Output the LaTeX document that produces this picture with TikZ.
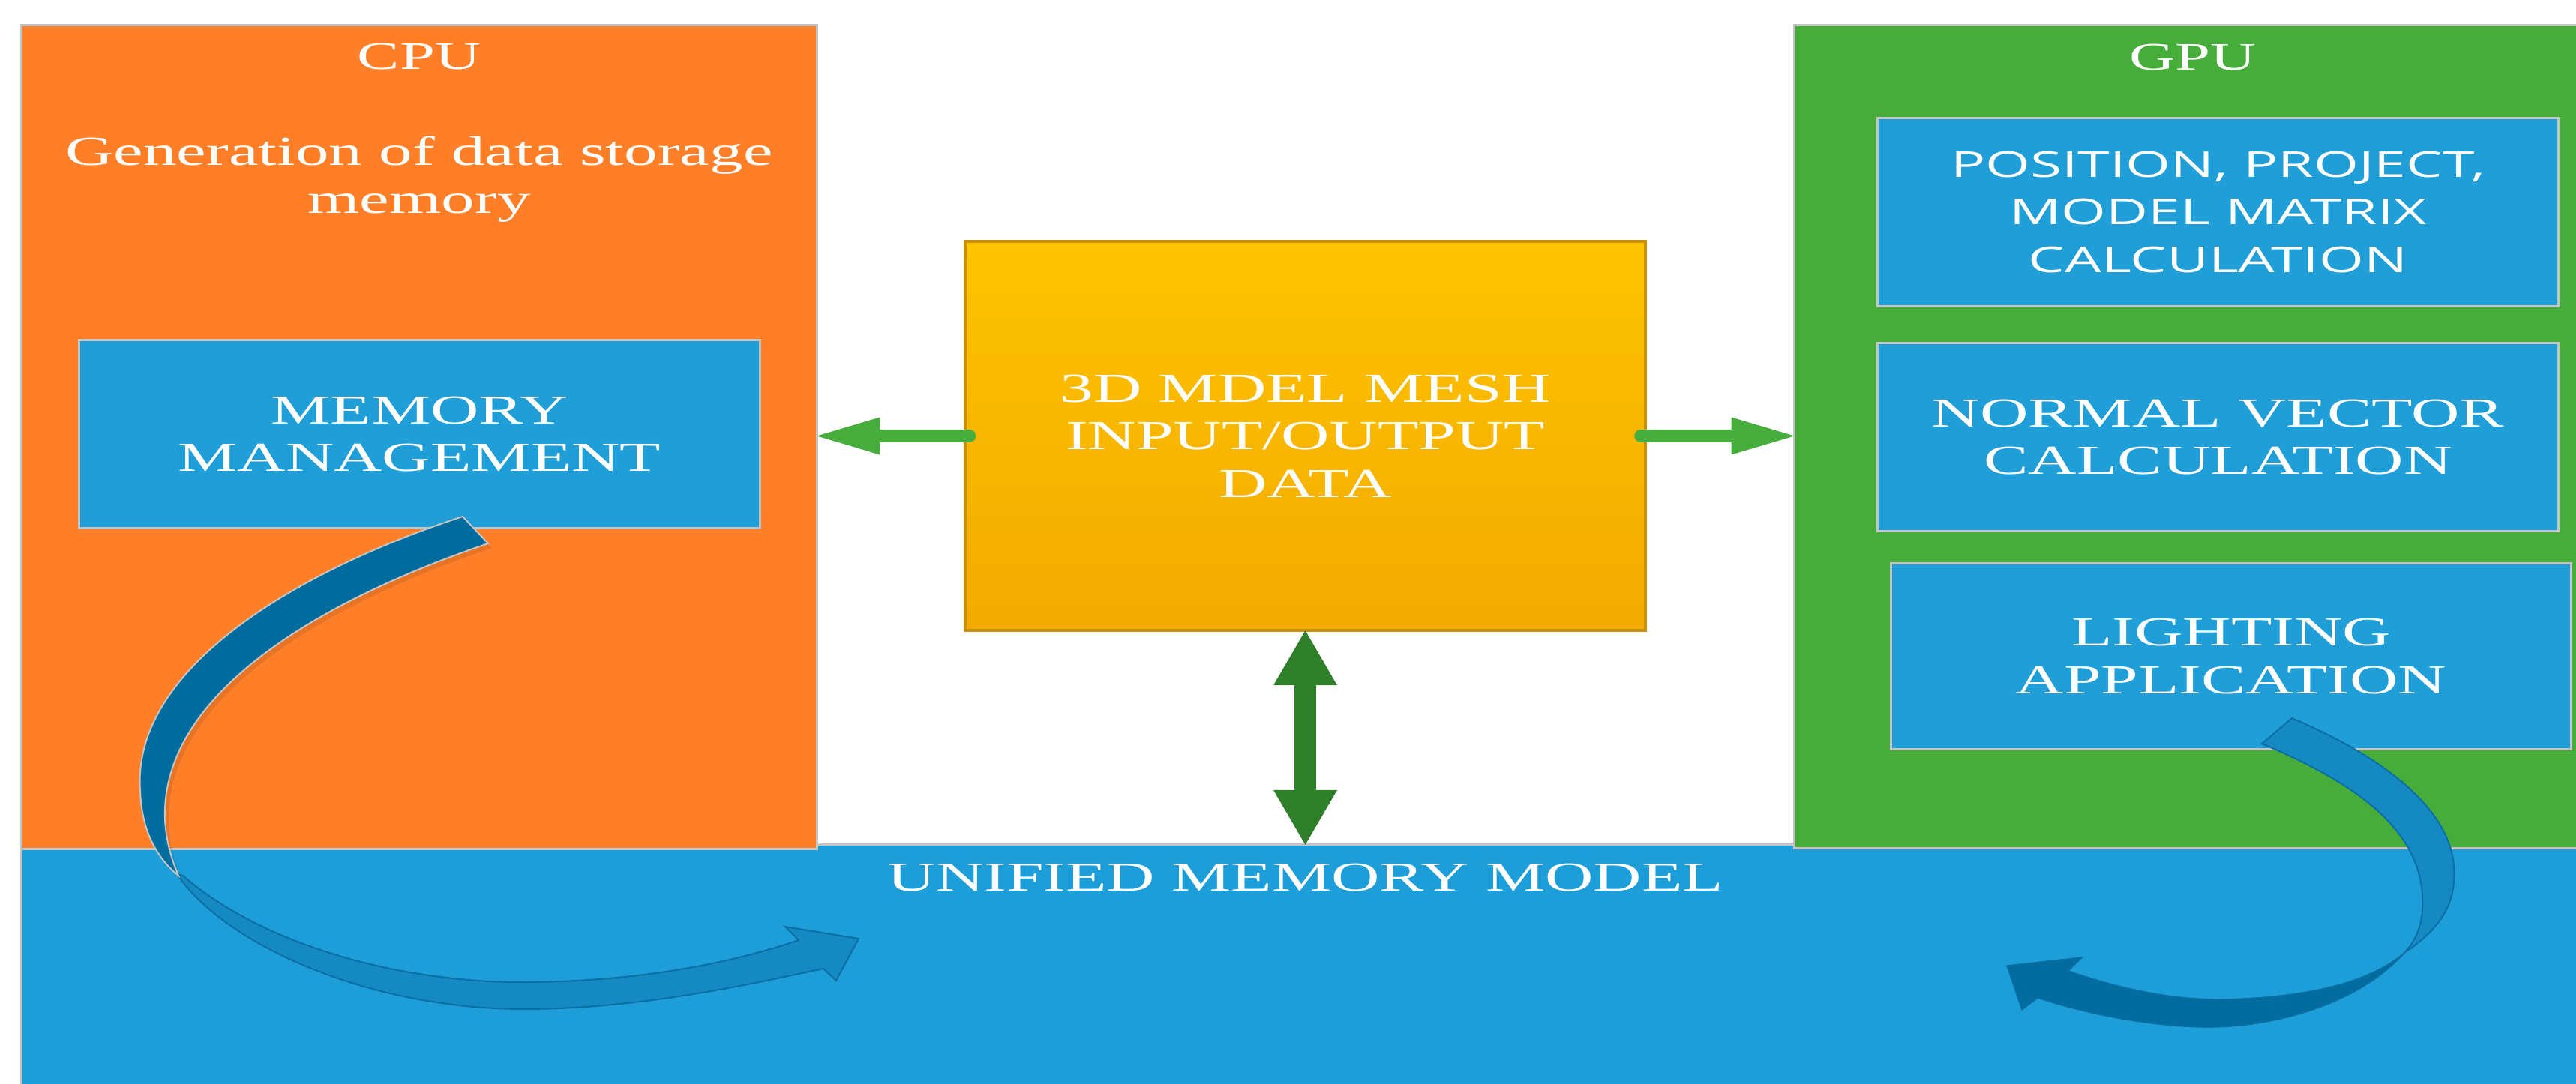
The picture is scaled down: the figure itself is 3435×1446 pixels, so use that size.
\documentclass[tikz,border=0pt]{standalone}
\usepackage{fontspec}
\setmainfont{Liberation Serif}
\newfontfamily\wserif[FakeStretch=1.62]{Liberation Serif}
\newfontfamily\wsans[FakeStretch=1.62]{Open Sans}
\usetikzlibrary{arrows.meta,calc}
\definecolor{cpuorange}{HTML}{FE7F28}
\definecolor{gpugreen}{HTML}{46AD3B}
\definecolor{umblue}{HTML}{1E9ED8}
\definecolor{boxblue}{HTML}{1F9ED8}
\definecolor{edgegray}{HTML}{C4C4C4}
\definecolor{ioTop}{HTML}{FFC400}
\definecolor{ioBot}{HTML}{F2AA00}
\definecolor{ioEdge}{HTML}{C8900C}
\definecolor{arrgreen}{HTML}{47AE3D}
\definecolor{darkgreen}{HTML}{2F7F2B}
\definecolor{curvedark}{HTML}{026C9E}
\definecolor{curvelight}{HTML}{1589C1}
\definecolor{curveedge}{HTML}{0B6FA5}
\begin{document}
\begin{tikzpicture}[x=0.01cm,y=-0.01cm,
  panel/.style={rectangle,draw=edgegray,line width=0.03cm,inner sep=0pt,outer sep=0pt},
  serifbig/.style={font=\wserif\fontsize{15.65pt}{18.07pt}\selectfont,text=white,align=center},
  titletext/.style={font=\wserif\fontsize{14.8pt}{18pt}\selectfont,text=white,inner sep=0pt},
  sansbig/.style={font=\wsans\fontsize{13.5pt}{18.07pt}\selectfont,text=white,align=center},
  garrow/.style={draw=arrgreen,line width=0.17cm,line cap=round,
    -{Triangle[width=0.50cm,length=0.84cm,line width=0pt]}},
  darrow/.style={draw=darkgreen,line width=0.29cm,
    {Triangle[width=0.85cm,length=0.73cm,line width=0pt]}-{Triangle[width=0.85cm,length=0.73cm,line width=0pt]}},
  curvelightpart/.style={fill=curvelight,draw=curveedge,line width=0.02cm},
  curvedarkpart/.style={fill=curvedark,draw=edgegray,line width=0.02cm}]
\useasboundingbox (0,0) rectangle (3435,1446);
\fill[white] (0,0) rectangle (3435,1446);
\clip (0,0) rectangle (3435,1446);

% unified memory band
\node[panel,fill=umblue,minimum width=34.26cm,minimum height=3.33cm] (umm) at (1742,1293.5) {};
\node[titletext,font=\wserif\fontsize{15.65pt}{18pt}\selectfont,anchor=base] (umt) at (1741,1188) {UNIFIED MEMORY MODEL};

% CPU
\node[panel,fill=cpuorange,minimum width=10.60cm,minimum height=10.98cm] (cpu) at (559,583) {};
\node[titletext,anchor=base] (cput) at (559,93) {CPU};
\node[titletext,font=\wserif\fontsize{15.65pt}{18pt}\selectfont,anchor=base] (gen1) at (559,221) {Generation of data storage};
\node[titletext,font=\wserif\fontsize{15.65pt}{18pt}\selectfont,anchor=base] (gen2) at (559,285) {memory};
\node[panel,fill=boxblue,minimum width=9.07cm,minimum height=2.50cm,serifbig] (mm) at (559.5,579) {MEMORY\\MANAGEMENT};

% GPU
\node[panel,fill=gpugreen,minimum width=10.62cm,minimum height=10.97cm] (gpu) at (2924,582.5) {};
\node[titletext,anchor=base] (gput) at (2924,94) {GPU};
\node[panel,fill=boxblue,minimum width=9.07cm,minimum height=2.50cm,sansbig] (pos) at (2957.5,283) {POSITION, PROJECT,\\MODEL MATRIX\\CALCULATION};
\node[panel,fill=boxblue,minimum width=9.07cm,minimum height=2.50cm,serifbig] (nv) at (2957.5,583) {NORMAL VECTOR\\CALCULATION};
\node[panel,fill=boxblue,minimum width=9.06cm,minimum height=2.47cm,serifbig] (li) at (2975,875.5) {LIGHTING\\APPLICATION};

% middle box
\node[rectangle,draw=ioEdge,line width=0.04cm,top color=ioTop,bottom color=ioBot,
  minimum width=9.07cm,minimum height=5.19cm,inner sep=0pt,outer sep=0pt,serifbig] (io) at (1740.5,581.5)
  {3D MDEL MESH\\INPUT/OUTPUT\\DATA};

% connectors
\draw[garrow] ([xshift=0.06cm]io.west) -- (io.west -| cpu.east);
\draw[garrow] ([xshift=-0.065cm]io.east) -- (io.east -| gpu.west);
\draw[darrow] (io.south) -- (io.south |- umm.north);

% left curved arrow
\filldraw[curvelightpart] (236,1166) .. controls (300,1260) and (490,1345) .. (696,1346)
  .. controls (850,1346) and (990,1315) .. (1098,1292) -- (1115,1308) -- (1145,1252) -- (1047,1236) -- (1065,1254)
  .. controls (960,1290) and (830,1310) .. (696,1310) .. controls (530,1310) and (350,1260) .. (244,1168) -- cycle;
\fill[black,opacity=0.09] (622,695) .. controls (405,766) and (180,896) .. (192,1061) .. controls (194,1116) and (215,1151) .. (243,1174)
  .. controls (231,1146) and (224,1116) .. (225,1086) .. controls (230,926) and (435,806) .. (656,731) -- cycle;
\filldraw[curvedarkpart] (617,689) .. controls (400,760) and (175,890) .. (187,1055)
  .. controls (189,1110) and (210,1145) .. (238,1168)
  .. controls (226,1140) and (219,1110) .. (220,1080) .. controls (225,920) and (430,800) .. (651,725) -- cycle;

% right curved arrow
\filldraw[fill=curvedark,draw=curveedge,line width=0.015cm] (3207,1270) .. controls (3140,1345) and (3020,1372) .. (2935,1370)
  .. controls (2860,1368) and (2780,1352) .. (2717,1331) -- (2696,1347) -- (2676,1288) -- (2776,1277) -- (2758,1295)
  .. controls (2830,1320) and (2900,1334) .. (2966,1333) .. controls (3080,1330) and (3160,1310) .. (3207,1270) -- cycle;
\filldraw[curvelightpart] (3056,958) .. controls (3190,1015) and (3280,1090) .. (3272,1175)
  .. controls (3270,1215) and (3245,1245) .. (3207,1270)
  .. controls (3225,1250) and (3232,1225) .. (3230,1195) .. controls (3225,1100) and (3130,1040) .. (3016,992) -- cycle;
\end{tikzpicture}
\end{document}
